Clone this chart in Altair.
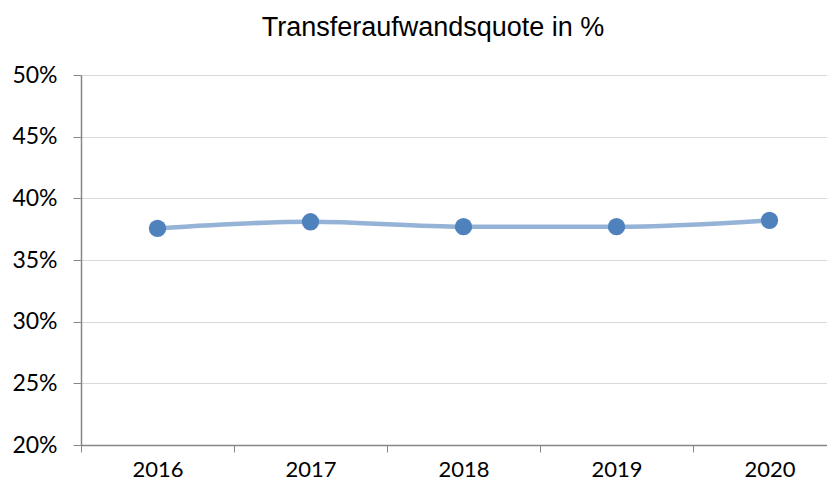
import altair as alt
import pandas as pd

years = [2016, 2017, 2018, 2019, 2020]
quote = [0.3756, 0.381, 0.377, 0.377, 0.3822]
y_ticks = [0.20, 0.25, 0.30, 0.35, 0.40, 0.45, 0.50]
title_text = "Transferaufwandsquote in %"

df = pd.DataFrame({"Jahr": years, "Quote": quote})

plot_w = 746
band_px = 153
x_lo = years[0] - 0.5
x_hi = x_lo + plot_w / band_px
x_vals = sorted([y - 0.5 for y in years] + years)

x_enc = alt.X(
    "Jahr:Q",
    scale=alt.Scale(domain=[x_lo, x_hi], nice=False, zero=False),
    axis=alt.Axis(
        title=None, labelAngle=0, grid=False, values=x_vals,
        labelExpr="datum.value % 1 == 0 ? '' + datum.value : ''",
        tickOpacity={"condition": {"test": "datum.value % 1 == 0", "value": 0}, "value": 1},
        domainColor="#868686", tickColor="#868686", tickSize=7,
        labelFont="Lato", labelFontSize=22, labelColor="#000000", labelPadding=7,
        domainWidth=1.5, labelFlush=False, labelOverlap=False,
    ),
)
y_enc = alt.Y(
    "Quote:Q",
    scale=alt.Scale(domain=[0.2, 0.5], nice=False, zero=False),
    axis=alt.Axis(
        title=None, values=y_ticks, format=".0%",
        gridColor="#D9D9D9", gridWidth=1, domainColor="#868686",
        tickColor="#868686", tickSize=8, domainWidth=1.5,
        labelFont="Lato", labelFontSize=23, labelColor="#000000", labelPadding=16,
    ),
)

base = alt.Chart(df)
line = base.mark_line(color="#95B3D7", strokeWidth=4.5, interpolate="monotone").encode(x=x_enc, y=y_enc)
pts = base.mark_circle(color="#4F81BD", size=300, opacity=1).encode(x=x_enc, y=y_enc)

chart = (
    alt.layer(line, pts)
    .properties(
        width=plot_w,
        height=370,
        title=alt.TitleParams(
            title_text, font="Liberation Sans", fontSize=27, fontWeight="normal",
            color="#000000", anchor="middle", dx=-21, offset=22,
        ),
        autosize=alt.AutoSizeParams(type="none"),
        padding={"left": 73, "top": 67, "right": 0, "bottom": 35},
    )
    .configure_view(stroke=None)
    .configure(background="#FFFFFF")
)

chart.save("out.html", embed_options={"renderer": "svg", "actions": False})
